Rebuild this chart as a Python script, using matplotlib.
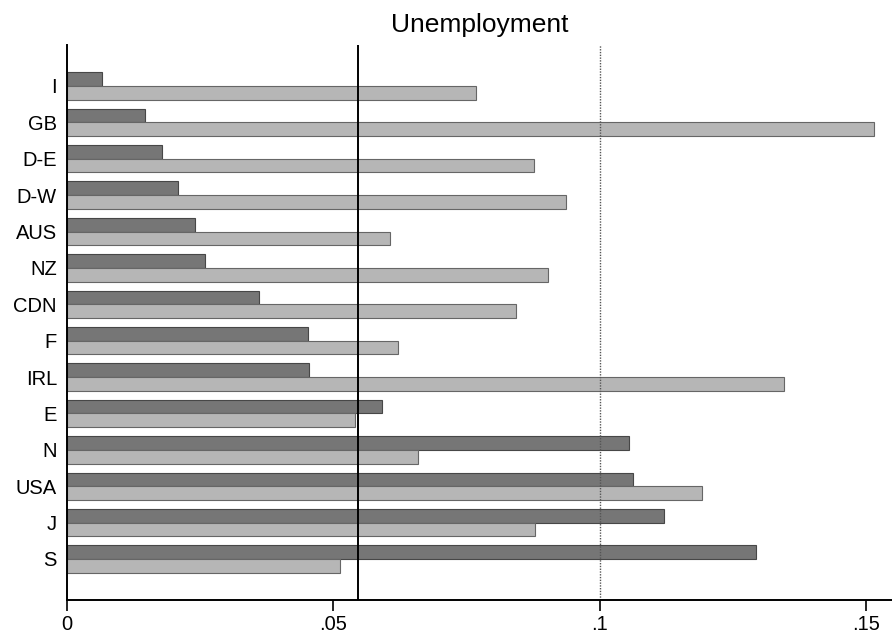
import numpy as np
import matplotlib
matplotlib.use("Agg")
import matplotlib.pyplot as plt

plt.rcParams['font.family'] = ['Liberation Sans', 'DejaVu Sans']

# Country labels, top to bottom
countries = ['I', 'GB', 'D-E', 'D-W', 'AUS', 'NZ', 'CDN', 'F', 'IRL', 'E', 'N', 'USA', 'J', 'S']

# Upper (dark) bars and lower (light) bars
dark_vals = [0.0066, 0.0146, 0.0179, 0.0209, 0.0241, 0.0259, 0.0361,
             0.0453, 0.0455, 0.0591, 0.1054, 0.1063, 0.1120, 0.1292]
light_vals = [0.0767, 0.1514, 0.0877, 0.0936, 0.0607, 0.0902, 0.0843,
              0.0622, 0.1345, 0.0540, 0.0659, 0.1191, 0.0879, 0.0513]

ref_solid = 0.0547
ref_dotted = 0.1

xticks = [0, 0.05, 0.1, 0.15]
xtick_labels = ['0', '.05', '.1', '.15']

fig = plt.figure(figsize=(8.92, 6.4), dpi=100)
ax = fig.add_axes([0.0748, 0.0625, 0.9252, 0.8672])

y = np.arange(len(countries))
h = 0.377

ax.barh(y - h / 2, dark_vals, height=h, color='#767676', edgecolor='#474747', linewidth=0.8)
ax.barh(y + h / 2, light_vals, height=h, color='#b6b6b6', edgecolor='#666666', linewidth=0.8)

ax.axvline(ref_solid, color='black', linewidth=1.4)
ax.axvline(ref_dotted, color='#555555', linewidth=1.0, linestyle=(0, (1, 1)))

ax.set_xlim(0, 0.1548)
ax.set_ylim(len(countries) - 1 + 1.127, -1.127)

ax.set_yticks(y)
ax.set_yticklabels(countries, fontsize=14.5)
ax.tick_params(axis='y', length=0, pad=7)

ax.set_xticks(xticks)
ax.set_xticklabels(xtick_labels, fontsize=14.5)
ax.tick_params(axis='x', length=8, width=1.2, pad=3)

for s in ['top', 'right']:
    ax.spines[s].set_visible(False)
for s in ['left', 'bottom']:
    ax.spines[s].set_linewidth(1.4)

ax.set_title('Unemployment', fontsize=19, pad=9)

fig.savefig('out.png', dpi=100)
